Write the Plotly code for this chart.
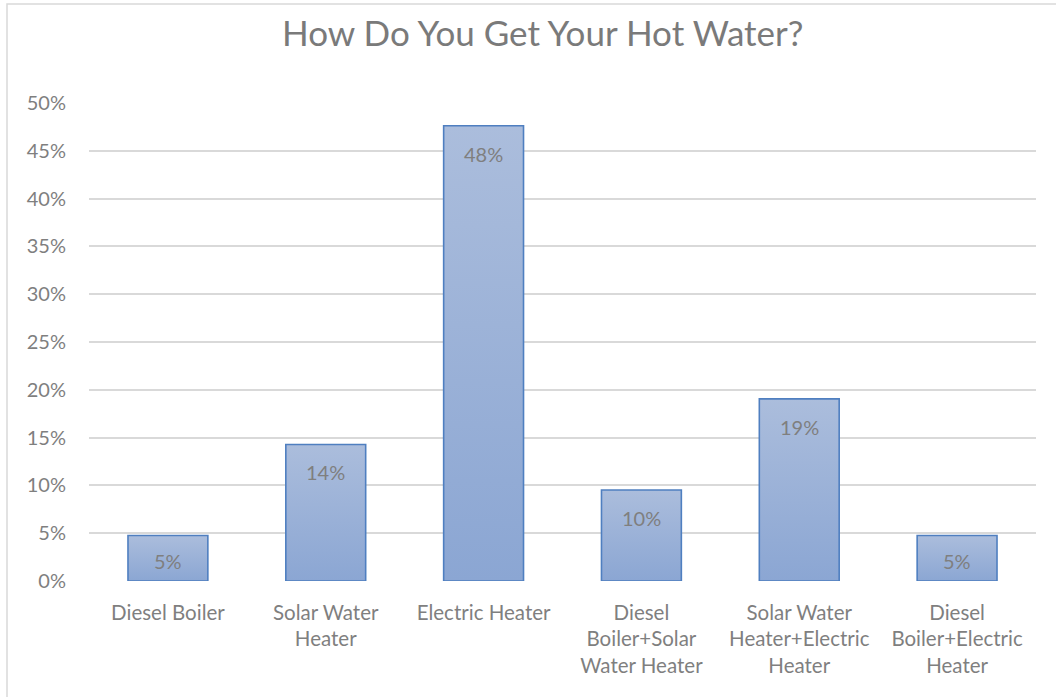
import plotly.graph_objects as go

# Survey responses (21 households)
categories = [
    "Diesel Boiler",
    "Solar Water<br>Heater",
    "Electric Heater",
    "Diesel<br>Boiler+Solar<br>Water Heater",
    "Solar Water<br>Heater+Electric<br>Heater",
    "Diesel<br>Boiler+Electric<br>Heater",
]
counts = [1, 3, 10, 2, 4, 1]
total = 21
shares = [c / total for c in counts]
labels = [f"{round(s * 100)}%" for s in shares]

y_ticks = [i / 100 for i in range(0, 55, 5)]
y_ticktext = [f"{i}%" for i in range(0, 55, 5)]

FONT = "Lato, 'Open Sans', sans-serif"
GRAY = "#7f7f7f"
HALF = 0.253  # half bar width in category units

PLOT_H = 478  # plot area height in px
Y_MAX = 0.5

fig = go.Figure()

for i, v in enumerate(shares):
    xs = [i - HALF, i + HALF, i + HALF, i - HALF, i - HALF]
    ys = [0, 0, v, v, 0]
    fig.add_trace(go.Scatter(
        x=xs, y=ys, mode="lines", fill="toself",
        line=dict(color="#4f7fc0", width=1.6),
        fillgradient=dict(
            type="vertical",
            colorscale=[[0, "#8ba6d3"], [1, "#abbddc"]],
        ),
        hoverinfo="skip", showlegend=False,
    ))
    px_h = v / Y_MAX * PLOT_H
    shift = -min(28, px_h / 2 + 3)
    fig.add_annotation(
        x=i, y=v, xref="x", yref="y", text=labels[i], showarrow=False,
        yshift=shift, yanchor="middle",
        font=dict(family=FONT, size=20, color=GRAY),
    )

# light outer frame
fig.add_shape(
    type="rect", xref="paper", yref="paper",
    x0=(7 - 89) / 947, x1=(1070 - 89) / 947,
    y0=-(710 - 581) / 478, y1=1 + (103 - 4) / 478,
    line=dict(color="#d9d9d9", width=1.5), layer="below",
)

fig.update_layout(
    width=1056, height=697,
    margin=dict(l=89, r=20, t=103, b=116),
    paper_bgcolor="white", plot_bgcolor="white",
    title=dict(
        text="How Do You Get Your Hot Water?",
        x=0.514, xanchor="center", y=0.952, yanchor="middle",
        font=dict(family=FONT, size=35, color="#7a7a7a"),
    ),
    font=dict(family=FONT, color=GRAY),
)

fig.update_xaxes(
    range=[-0.5, 5.5], tickmode="array", tickvals=list(range(len(categories))),
    ticktext=categories, showgrid=False, zeroline=False, showline=False,
    ticks="", ticklabelstandoff=17,
    tickfont=dict(family=FONT, size=20.5, color=GRAY),
)
fig.update_yaxes(
    range=[0, Y_MAX], tickmode="array", tickvals=y_ticks, ticktext=y_ticktext,
    showgrid=True, gridcolor="#d9d9d9", gridwidth=1.5, zeroline=False,
    showline=False, ticks="", ticklabelstandoff=22,
    tickfont=dict(family=FONT, size=20, color=GRAY),
)

fig.write_html("out.html")
